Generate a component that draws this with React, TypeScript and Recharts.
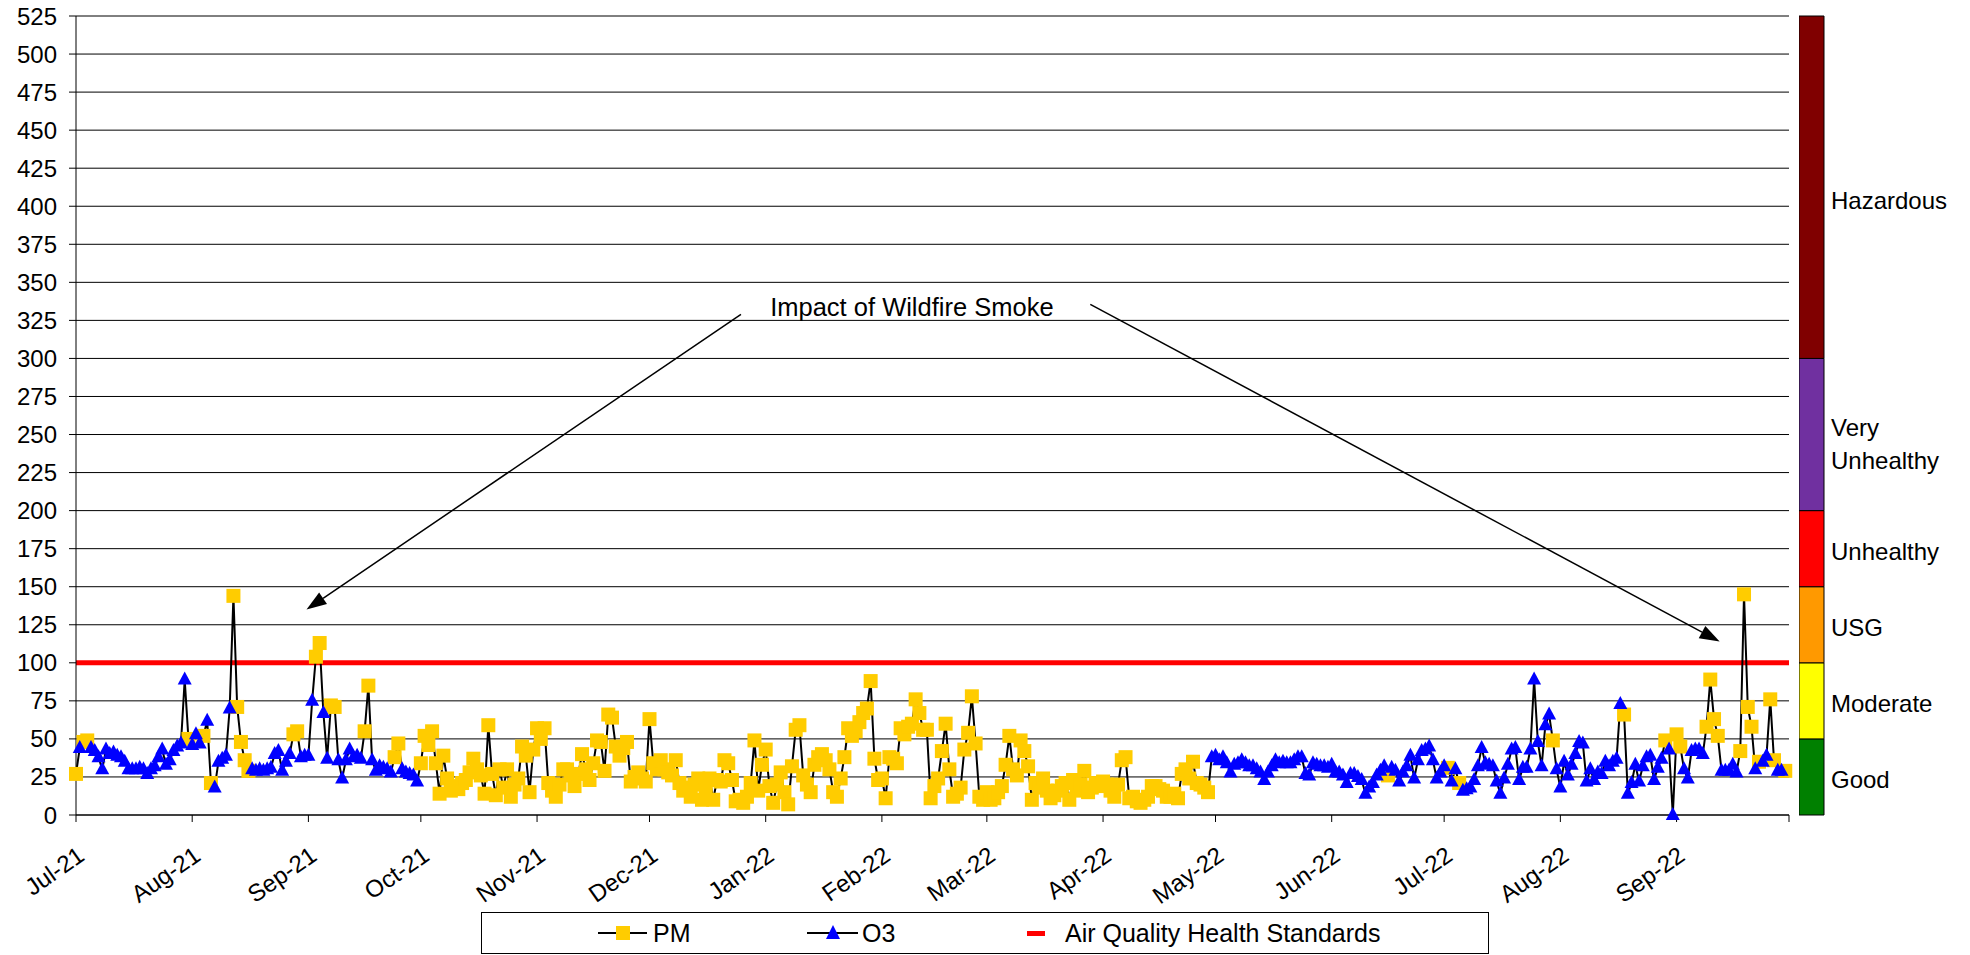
import React from 'react';
import {
  ComposedChart,
  Line,
  XAxis,
  YAxis,
  CartesianGrid,
  ReferenceLine,
  ReferenceDot,
  Legend,
  BarChart,
  Bar,
} from 'recharts';

const FONT = '"Liberation Sans", Arial, Helvetica, sans-serif';

// month axis
const monthLabels = ['Jul-21', 'Aug-21', 'Sep-21', 'Oct-21', 'Nov-21', 'Dec-21', 'Jan-22', 'Feb-22', 'Mar-22', 'Apr-22', 'May-22', 'Jun-22', 'Jul-22', 'Aug-22', 'Sep-22'];
const monthDays = [31, 31, 30, 31, 30, 31, 31, 28, 31, 30, 31, 30, 31, 31, 30];
const yTicks = [0, 25, 50, 75, 100, 125, 150, 175, 200, 225, 250, 275, 300, 325, 350, 375, 400, 425, 450, 475, 500, 525];

// daily AQI, one value per day; src string: P = PM governs, O = ozone governs
const jul21 = [27, 44, 48, 49, 44, 42, 38, 30, 43, 40, 41, 39, 38, 35, 30, 30, 30, 31, 30, 27, 30, 32, 38, 43, 33, 36, 42, 45, 47, 89, 50];
const jul21Src = 'POPPOOOOOOOOOOOOOOOOOOOOOOOOOOP';
const aug21 = [46, 53, 47, 52, 62, 21, 18, 35, 37, 39, 70, 144, 71, 48, 36, 29, 30, 29, 30, 29, 30, 31, 40, 42, 29, 35, 40, 53, 55, 38, 39];
const aug21Src = 'OOOPOPOOOOOPPPPPOOOOOOOOOOOPPOO';
const sep21 = [39, 75, 104, 113, 67, 37, 72, 71, 36, 24, 36, 43, 38, 39, 37, 55, 85, 36, 29, 32, 31, 30, 28, 38, 47, 30, 28, 27, 26, 22];
const sep21Src = 'OOPPOOPPOOOOOOOPPOOOOOOPPOOOOO';
const oct21 = [34, 52, 46, 55, 34, 14, 39, 24, 16, 19, 17, 21, 23, 28, 37, 30, 26, 14, 59, 27, 13, 30, 18, 30, 12, 20, 24, 45, 39, 15, 43];
const oct21Src = 'PPPPPPPPPPPPPPPPPPPPPPPPPPPPPPP';
const nov21 = [57, 50, 57, 21, 16, 12, 20, 30, 30, 26, 19, 27, 40, 30, 23, 34, 49, 48, 29, 66, 64, 45, 39, 44, 48, 22, 25, 28, 24, 22];
const nov21Src = 'PPPPPPPPPPPPPPPPPPPPPPPPPPPPPP';
const dec21 = [63, 34, 30, 36, 30, 28, 26, 36, 21, 16, 18, 12, 20, 24, 10, 16, 24, 10, 23, 22, 36, 34, 23, 9, 10, 8, 12, 21, 49, 16, 33];
const dec21Src = 'PPPPPPPPPPPPPPPPPPPPPPPPPPPPPPP';
const jan22 = [43, 19, 8, 20, 28, 15, 7, 32, 56, 59, 26, 20, 15, 33, 38, 40, 36, 30, 15, 12, 24, 38, 57, 52, 55, 61, 67, 70, 88, 37, 23];
const jan22Src = 'PPPPPPPPPPPPPPPPPPPPPPPPPPPPPPP';
const feb22 = [24, 11, 38, 37, 34, 57, 53, 58, 60, 76, 67, 56, 56, 11, 19, 24, 42, 60, 30, 12, 14, 18, 43, 54, 78, 47, 12, 10];
const feb22Src = 'PPPPPPPPPPPPPPPPPPPPPPPPPPPP';
const mar22 = [15, 10, 11, 15, 19, 33, 52, 30, 26, 49, 42, 32, 10, 21, 18, 24, 16, 11, 13, 16, 19, 21, 10, 23, 16, 20, 29, 15, 18, 21, 19];
const mar22Src = 'PPPPPPPPPPPPPPPPPPPPPPPPPPPPPPP';
const apr22 = [22, 20, 16, 12, 20, 36, 38, 11, 12, 9, 8, 10, 12, 19, 19, 17, 16, 12, 12, 14, 11, 27, 30, 24, 35, 21, 20, 18, 15, 38];
const apr22Src = 'PPPPPPPPPPPPPPPPPPPPPPPPPPPPPO';
const may22 = [39, 36, 38, 34, 28, 33, 34, 36, 34, 32, 32, 30, 28, 23, 28, 32, 36, 34, 35, 34, 34, 36, 38, 38, 27, 26, 34, 33, 32, 32, 31];
const may22Src = 'OOOOOOOOOOOOOOOOOOOOOOOOOOOOOOO';
const jun22 = [33, 28, 28, 26, 21, 27, 27, 25, 23, 14, 18, 21, 26, 29, 32, 26, 31, 29, 22, 28, 32, 39, 24, 36, 42, 43, 45, 36, 24, 28];
const jun22Src = 'OOOOOOOOOOOOOOOPOOOOOOOOOOOOOO';
const jul22 = [32, 31, 22, 30, 21, 16, 17, 18, 23, 32, 44, 34, 33, 32, 22, 14, 24, 33, 43, 44, 23, 31, 31, 43, 89, 48, 32, 59, 66, 49, 30];
const jul22Src = 'OPOOPOOOOOOOOOOOOOOOOOOOOOOOOPO';
const aug22 = [18, 35, 26, 33, 40, 48, 47, 22, 30, 23, 28, 27, 35, 32, 35, 37, 73, 66, 14, 21, 33, 22, 32, 38, 39, 23, 31, 37, 49, 43, 0];
const aug22Src = 'OOOOOOOOOOOOOOOOOPOOOOOOOOOOPOO';
const sep22 = [53, 45, 30, 24, 42, 43, 43, 40, 58, 89, 63, 52, 29, 29, 29, 33, 28, 42, 145, 71, 58, 30, 35, 35, 39, 76, 36, 29, 29, 29];
const sep22Src = 'PPOOOOOOPPPPOOOOOPPPPOPOOPPOOP';

// AQI category bar on the right
const bandNames = ['Good', 'Moderate', 'USG', 'Unhealthy', 'Very Unhealthy', 'Hazardous'];
const bandSpans = [50, 50, 50, 50, 100, 225];
const bandColors = ['#008000', '#FFFF00', '#FF9900', '#FF0000', '#7030A0', '#800000'];

const standard = 100;

const monthValues = [jul21, aug21, sep21, oct21, nov21, dec21, jan22, feb22, mar22, apr22, may22, jun22, jul22, aug22, sep22];
const monthSrc = [jul21Src, aug21Src, sep21Src, oct21Src, nov21Src, dec21Src, jan22Src, feb22Src, mar22Src, apr22Src, may22Src, jun22Src, jul22Src, aug22Src, sep22Src];

const monthStarts: number[] = [];
let acc = 0;
monthDays.forEach((n) => {
  monthStarts.push(acc);
  acc += n;
});
const lastDay = acc;
const xTicks = [...monthStarts, lastDay];

const rows: { day: number; aqi: number; pm: number | null; o3: number | null }[] = [];
monthValues.forEach((vals, m) => {
  vals.forEach((v, i) => {
    const s = monthSrc[m][i];
    rows.push({ day: monthStarts[m] + i, aqi: v, pm: s === 'P' ? v : null, o3: s === 'O' ? v : null });
  });
});

const bandRow: Record<string, number | string> = { name: 'AQI' };
bandSpans.forEach((s, i) => {
  bandRow['b' + i] = s;
});

const SquareDot = (props: any) => {
  const { cx, cy, value, index } = props;
  if (value == null || cx == null || cy == null) return <g key={'s' + index} />;
  return <rect key={'s' + index} x={cx - 7} y={cy - 7} width={14} height={14} fill="#FFCC00" />;
};

const TriangleDot = (props: any) => {
  const { cx, cy, value, index } = props;
  if (value == null || cx == null || cy == null) return <g key={'t' + index} />;
  return <polygon key={'t' + index} points={`${cx},${cy - 8} ${cx + 7},${cy + 5} ${cx - 7},${cy + 5}`} fill="#0000FF" />;
};

const MonthTick = (props: any) => {
  const { x, y, payload } = props;
  const idx = monthStarts.indexOf(payload.value);
  if (idx < 0) return <g />;
  const ax = x + 10;
  const ay = y + 35;
  return (
    <text x={ax} y={ay} transform={`rotate(-35 ${ax} ${ay})`} textAnchor="end" fontSize={24} fontFamily={FONT} fill="#000">
      {monthLabels[idx]}
    </text>
  );
};

const Arrow = (props: any) => {
  const { x1, y1, x2, y2 } = props;
  if (x1 == null) return <g />;
  const ang = Math.atan2(y2 - y1, x2 - x1);
  const len = 20;
  const half = 7;
  const bx = x2 - len * Math.cos(ang);
  const by = y2 - len * Math.sin(ang);
  const px = -Math.sin(ang) * half;
  const py = Math.cos(ang) * half;
  return (
    <g>
      <line x1={x1} y1={y1} x2={bx} y2={by} stroke="#000" strokeWidth={1.5} />
      <polygon points={`${x2},${y2} ${bx + px},${by + py} ${bx - px},${by - py}`} fill="#000" />
    </g>
  );
};

const LegendBox = () => (
  <svg width={1008} height={42} style={{ display: 'block' }}>
    <rect x={0.5} y={0.5} width={1007} height={41} fill="#fff" stroke="#000" />
    <line x1={117} y1={21} x2={166} y2={21} stroke="#000" strokeWidth={2} />
    <rect x={135} y={14} width={14} height={14} fill="#FFCC00" />
    <text x={172} y={30} fontSize={25} fontFamily={FONT} fill="#000">PM</text>
    <line x1={326} y1={21} x2={377} y2={21} stroke="#000" strokeWidth={2} />
    <polygon points="352,13 359,27 345,27" fill="#0000FF" />
    <text x={381} y={30} fontSize={25} fontFamily={FONT} fill="#000">O3</text>
    <rect x={546} y={19} width={18} height={5} fill="#FF0000" />
    <text x={584} y={30} fontSize={25} fontFamily={FONT} fill="#000">Air Quality Health Standards</text>
  </svg>
);

const BandLabel = (props: any) => {
  const { x, y, width, height, name } = props;
  const lx = x + width + 7;
  const cy = y + height / 2;
  if (name === 'Very Unhealthy') {
    return (
      <text x={lx} y={cy} fontSize={24} fontFamily={FONT} fill="#000">
        <tspan x={lx} dy={1}>Very</tspan>
        <tspan x={lx} dy={33}>Unhealthy</tspan>
      </text>
    );
  }
  const extra = name === 'Hazardous' ? 22 : 11;
  return (
    <text x={lx} y={cy + extra} fontSize={24} fontFamily={FONT} fill="#000">
      {name}
    </text>
  );
};

export default function App() {
  return (
    <div style={{ position: 'absolute', left: 0, top: 0, width: 1970, height: 955, background: '#fff', overflow: 'hidden' }}>
      <div style={{ position: 'absolute', left: 0, top: 0 }}>
        <ComposedChart width={1970} height={955} data={rows} margin={{ top: 16, right: 181, bottom: 80, left: 16 }}>
          <CartesianGrid vertical={false} stroke="#000" strokeWidth={1} />
          <XAxis
            dataKey="day"
            type="number"
            domain={[0, lastDay]}
            ticks={xTicks}
            interval={0}
            height={60}
            tickSize={7}
            tick={<MonthTick />}
            axisLine={{ stroke: '#000' }}
            tickLine={{ stroke: '#000' }}
          />
          <YAxis
            domain={[0, 525]}
            ticks={yTicks}
            interval={0}
            width={60}
            tickSize={7}
            tickMargin={12}
            tick={{ fontSize: 24, fill: '#000', fontFamily: FONT }}
            axisLine={{ stroke: '#000' }}
            tickLine={{ stroke: '#000' }}
          />
          <ReferenceLine y={standard} stroke="#FF0000" strokeWidth={5} />
          <Line dataKey="aqi" stroke="#000" strokeWidth={2} dot={false} activeDot={false} isAnimationActive={false} />
          <Line dataKey="pm" stroke="none" dot={SquareDot} activeDot={false} isAnimationActive={false} />
          <Line dataKey="o3" stroke="none" dot={TriangleDot} activeDot={false} isAnimationActive={false} />
          <ReferenceLine segment={[{ x: 177.4, y: 329 }, { x: 61.5, y: 135 }]} shape={<Arrow />} />
          <ReferenceLine segment={[{ x: 270.6, y: 335.5 }, { x: 438.5, y: 114 }]} shape={<Arrow />} />
          <ReferenceDot
            x={223}
            y={334}
            r={1}
            fill="none"
            stroke="none"
            label={{ value: 'Impact of Wildfire Smoke', position: 'center', fontSize: 25.5, fontFamily: FONT, fill: '#000' }}
          />
          <Legend
            layout="horizontal"
            verticalAlign="middle"
            align="center"
            content={<LegendBox />}
            wrapperStyle={{ left: 481, top: 912, width: 1008, height: 42 }}
          />
        </ComposedChart>
      </div>
      <div style={{ position: 'absolute', left: 1799, top: 0 }}>
        <BarChart width={171} height={955} data={[bandRow]} margin={{ top: 16, right: 146, bottom: 140, left: 0 }} barCategoryGap={0}>
          <XAxis dataKey="name" hide />
          <YAxis domain={[0, 525]} hide />
          {bandSpans.map((s, i) => (
            <Bar
              key={bandNames[i]}
              dataKey={'b' + i}
              stackId="band"
              fill={bandColors[i]}
              stroke="#000"
              strokeWidth={1}
              isAnimationActive={false}
              label={<BandLabel name={bandNames[i]} />}
            />
          ))}
        </BarChart>
      </div>
    </div>
  );
}
